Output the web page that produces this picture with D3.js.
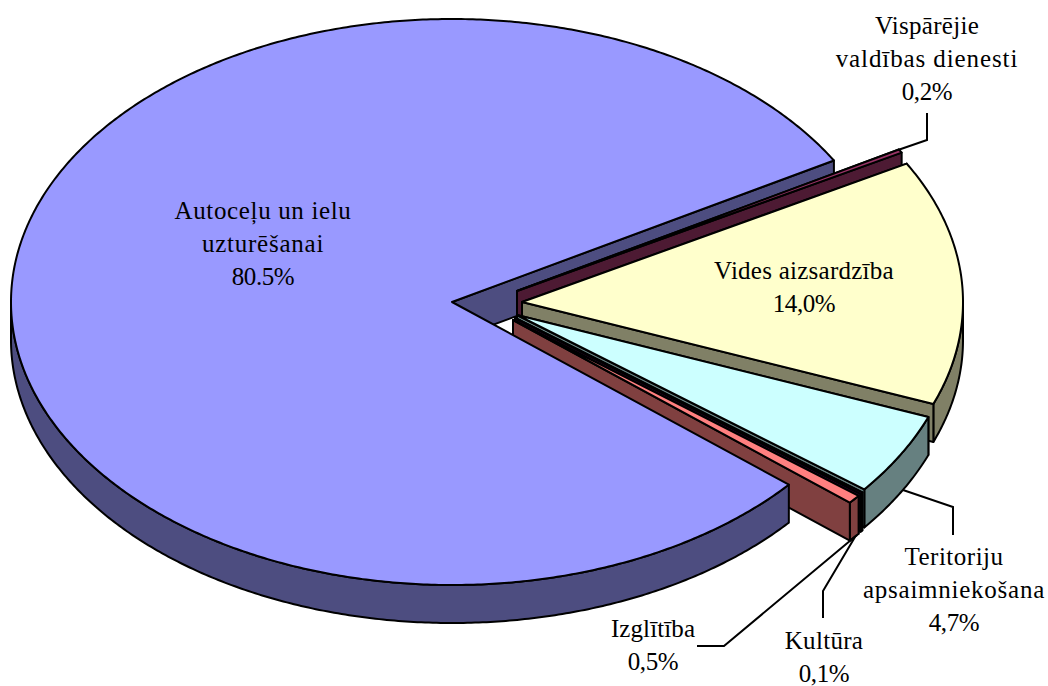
<!DOCTYPE html>
<html><head><meta charset="utf-8">
<script src="https://cdn.jsdelivr.net/npm/d3@7/dist/d3.min.js"></script>
<style>html,body{margin:0;padding:0;background:#fff}svg{display:block}text{font-family:"Liberation Serif","Times New Roman",serif;font-size:25px;fill:#000;text-anchor:middle}</style>
</head><body><svg id="c" width="1048" height="686"></svg>
<script>
// data (clockwise from the gap's upper edge)
const categories=["Vispārējie valdības dienesti","Vides aizsardzība","Teritoriju apsaimniekošana","Kultūra","Izglītība","Autoceļu un ielu uzturēšanai"];
const shares=[0.2,14.0,4.7,0.1,0.5,80.5];
const shareLabels=["0,2%","14,0%","4,7%","0,1%","0,5%","80.5%"];
// styling
const topColors=["#993366","#FFFFCC","#CCFFFF","#660066","#FF8080","#9999FF"];
const wallColors=["#4D1A33","#808066","#668080","#330033","#804040","#4D4D80"];
const apexX=[517,522,517,515,513,452];
const apexY=[291,302,315,318,320,302];
const labelLines=[["Vispārējie","valdības dienesti"],["Vides aizsardzība"],["Teritoriju","apsaimniekošana"],["Kultūra"],["Izglītība"],["Autoceļu un ielu","uzturēšanai"]];
const labelSpacing=[[0.3,0.9],[0.25],[0.5,0.75],[0.3],[0.1],[0.65,0.76]];
const labelX=[927,804,954,824,653,263];
const labelY=[34,279,565,649,637,219];
const leaders=[[[898,150],[927,140],[927,113]],[],[[903,490],[953,507],[953,535]],[[855,537],[823,591],[823,618]],[[857,535],[724,646],[697,646]],[]];
const rx=441,ry=283,depth=38,lineGap=33;
const startDeg=60;

const svg=d3.select("#c");
const pie=d3.pie().sort(null).startAngle(startDeg*Math.PI/180).endAngle((startDeg+360)*Math.PI/180);
const arcs=pie(shares);
const line=d3.line().curve(d3.curveLinearClosed);
function rim(i,a,dz){return [apexX[i]+rx*Math.sin(a), apexY[i]-ry*Math.cos(a)+dz];}
function rimPts(i,a0,a1,dz){const scale=d3.scaleLinear().domain([0,1]).range([a0,a1]);
  return d3.range(0,1.0001,Math.min(1,0.5/(Math.abs(a1-a0)*180/Math.PI))).concat(1).map(t=>rim(i,scale(t),dz));}
function draw(path,fill){svg.append("path").attr("d",path).attr("fill",fill).attr("stroke","#000").attr("stroke-width",2).attr("stroke-linejoin","round");}
function edgeWall(i,a){const p=rim(i,a,0),q=rim(i,a,depth);
  draw(line([[apexX[i],apexY[i]],p,q,[apexX[i],apexY[i]+depth]]),wallColors[i]);}
function rimWall(i){const d=arcs[i],a0=Math.max(d.startAngle,Math.PI/2),a1=Math.min(d.endAngle,1.5*Math.PI);
  if(a1<=a0)return;
  draw(line(rimPts(i,a0,a1,0).concat(rimPts(i,a1,a0,depth))),wallColors[i]);}
function topFace(i){const d=arcs[i];
  draw(line([[apexX[i],apexY[i]]].concat(rimPts(i,d.startAngle,d.endAngle,0))),topColors[i]);}
const big=5;
edgeWall(big,arcs[big].endAngle);
[0,1,2,3,4].forEach(i=>{edgeWall(i,arcs[i].startAngle);rimWall(i);edgeWall(i,arcs[i].endAngle);topFace(i);});
rimWall(big);topFace(big);

leaders.forEach(l=>{if(l.length)svg.append("path").attr("d",d3.line()(l)).attr("fill","none").attr("stroke","#000").attr("stroke-width",2);});
categories.forEach((c,i)=>{
  const t=svg.append("text").attr("x",labelX[i]).attr("y",labelY[i]);
  labelLines[i].forEach((s,j)=>t.append("tspan").attr("x",labelX[i]).attr("y",labelY[i]+j*lineGap).attr("letter-spacing",labelSpacing[i][j]).text(s));
  t.append("tspan").attr("x",labelX[i]).attr("y",labelY[i]+labelLines[i].length*lineGap).attr("letter-spacing",-0.4).text(shareLabels[i]);
});
</script></body></html>
